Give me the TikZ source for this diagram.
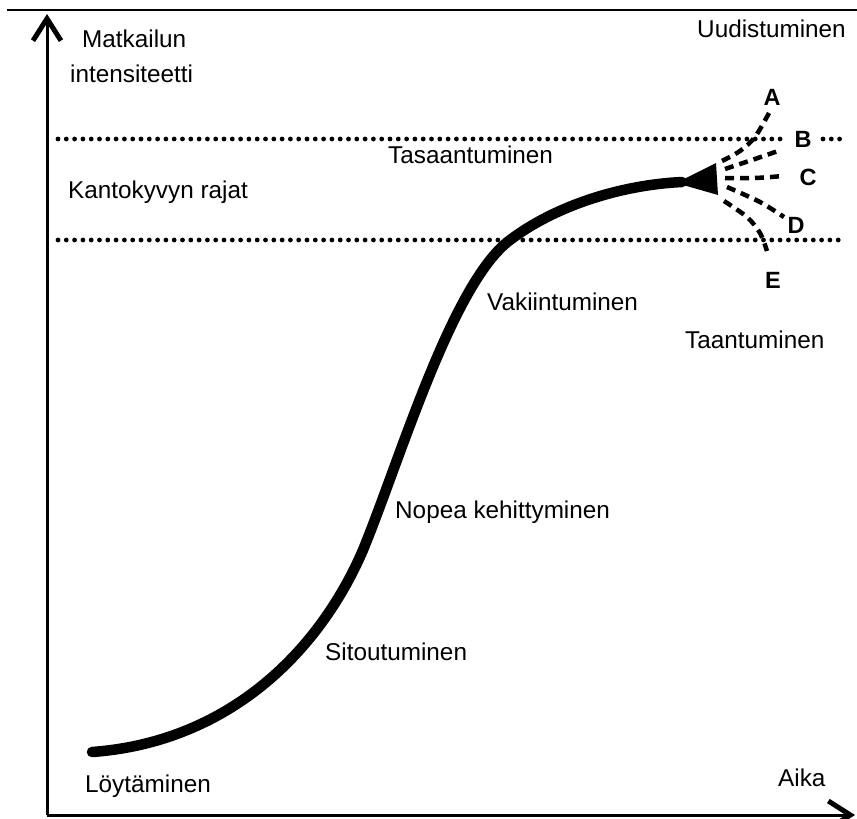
\documentclass[tikz,border=0pt]{standalone}
\usepackage{fontspec}
\setmainfont{Liberation Sans}
\usetikzlibrary{arrows.meta}
\tikzset{
  lbl/.style={anchor=base west,inner sep=0pt,font=\fontsize{24.3}{28}\selectfont},
  letter/.style={anchor=base,inner sep=0pt,font=\fontsize{23.5}{28}\selectfont\bfseries},
  axis/.style={line width=3pt,-{Straight Barb[length=22pt,width=28pt,line width=5pt]}},
  dotline/.style={line width=4.8pt,line cap=round,dash pattern=on 0pt off 8.3pt},
  dashline/.style={line width=4.5pt,dash pattern=on 9pt off 6pt},
  curveline/.style={line width=10.5pt,line cap=round,line join=round}
}
\begin{document}
\begin{tikzpicture}[x=1pt,y=-1pt]
\useasboundingbox (0,0) rectangle (857,819);
% frame line at top
\coordinate (tl) at (7,10);
\coordinate (tr) at (857,10);
\draw[line width=1.6pt] (tl) -- (tr);
% axes
\coordinate (o) at (47,815);
\coordinate (ytop) at (47,14);
\coordinate (xend) at (855,815);
\draw[axis] (o) -- (ytop);
\draw[axis] (o) -- (xend);
% dotted limit lines
\coordinate (d1a) at (58,139);
\coordinate (d1b) at (783,139);
\coordinate (d1c) at (823,139);
\coordinate (d1d) at (846,139);
\coordinate (d2a) at (58,240);
\coordinate (d2b) at (846,240);
\draw[dotline] (d1a) -- (d1b);
\draw[dotline] (d1c) -- (d1d);
\draw[dotline] (d2a) -- (d2b);
% main curve
\coordinate (c0) at (92,752);
\coordinate (c1) at (363,550);
\coordinate (c2) at (510,240);
\coordinate (c3) at (682,182);
\draw[curveline] (c0) .. controls (230,742) and (320,650) .. (c1)
  .. controls (400,460) and (452,283) .. (c2)
  .. controls (555,206) and (620,185) .. (c3);
% wedge
\coordinate (wt) at (676,183);
\coordinate (wa) at (716,163);
\coordinate (wb) at (718,195);
\fill (wt) -- (wa) -- (wb) -- cycle;
% fan of dashed futures
\draw[dashline] plot[smooth] coordinates {(722,161) (740,151) (755,137) (769,113)};
\draw[dashline] plot[smooth] coordinates {(725,169) (752,160) (781,150)};
\draw[dashline] plot[smooth] coordinates {(725,178) (755,178) (783,176)};
\draw[dashline] plot[smooth] coordinates {(727,187) (760,202) (784,217)};
\draw[dashline] plot[smooth] coordinates {(724,201) (747,217) (760,233) (767,251)};
% letters
\node[letter] (A) at (772,105) {A};
\node[letter] (B) at (803,147) {B};
\node[letter] (C) at (808,185) {C};
\node[letter] (D) at (796,233) {D};
\node[letter] (E) at (773,288) {E};
% labels
\node[lbl] (m1) at (82,47) {Matkailun};
\node[lbl] (m2) at (70,82) {intensiteetti};
\node[lbl] (uud) at (697,37) {Uudistuminen};
\node[lbl] (tas) at (388,163) {Tasaantuminen};
\node[lbl] (kan) at (68,198) {Kantokyvyn rajat};
\node[lbl] (vak) at (487,310) {Vakiintuminen};
\node[lbl] (taa) at (685,348) {Taantuminen};
\node[lbl] (nop) at (395,518) {Nopea kehittyminen};
\node[lbl] (sit) at (325,660) {Sitoutuminen};
\node[lbl] (loy) at (85,792) {Löytäminen};
\node[lbl] (aika) at (778,786) {Aika};
\end{tikzpicture}
\end{document}
